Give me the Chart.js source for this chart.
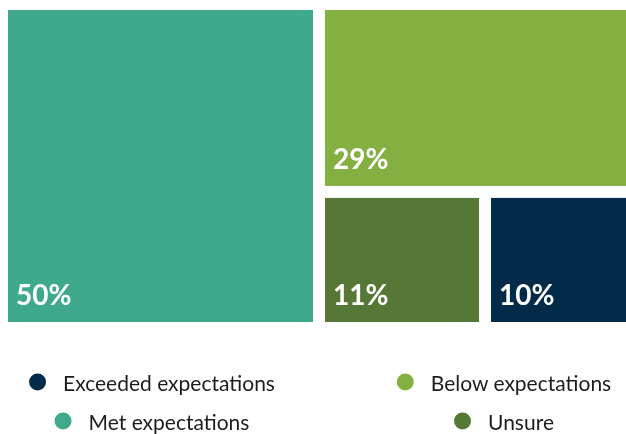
<!DOCTYPE html>
<html>
<head>
<meta charset="utf-8">
<script src="https://cdn.jsdelivr.net/npm/chart.js@4"></script>
<style>
  html, body { margin: 0; padding: 0; background: #fff; overflow: hidden; }
  #wrap { position: relative; width: 626px; height: 434px; overflow: hidden; }
  #tree { position: absolute; left: 0; top: 0; }
  .item { position: absolute; display: flex; align-items: center; transform: translate(-50%, -50%);
          font-family: Lato, "Open Sans", sans-serif; font-size: 21px; color: #1d1d1b; white-space: nowrap; }
  .dot { width: 17px; height: 17px; border-radius: 50%; margin-right: 17px; }
</style>
</head>
<body>
<div id="wrap">
  <canvas id="tree" width="640" height="434"></canvas>
  <div id="legend"></div>
</div>
<script>
var categories = ['Met expectations', 'Below expectations', 'Unsure', 'Exceeded expectations'];
var values = [50, 29, 11, 10];
var colors = ['#3fa98c', '#84b042', '#557836', '#022b4a'];

// legend order as laid out under the tiles: two columns, two rows
var legendOrder = [3, 1, 0, 2];
var legendCenters = [[152, 382], [504, 382], [152, 421], [504, 421]];

var GAP = 12;

function worst(row, side) {
    var s = 0, mx = -Infinity, mn = Infinity;
    row.forEach(function (r) { s += r.a; mx = Math.max(mx, r.a); mn = Math.min(mn, r.a); });
    return Math.max(side * side * mx / (s * s), (s * s) / (side * side * mn));
}

function place(row, r, out) {
    var s = row.reduce(function (t, it) { return t + it.a; }, 0);
    if (r.w >= r.h) {
        var t = s / r.h, yy = r.y;
        row.forEach(function (it) { var hh = it.a / t; out.push({ i: it.i, x: r.x, y: yy, w: t, h: hh }); yy += hh; });
        return { x: r.x + t, y: r.y, w: r.w - t, h: r.h };
    }
    var t2 = s / r.w, xx = r.x;
    row.forEach(function (it) { var ww = it.a / t2; out.push({ i: it.i, x: xx, y: r.y, w: ww, h: t2 }); xx += ww; });
    return { x: r.x, y: r.y + t2, w: r.w, h: r.h - t2 };
}

// squarified layout in units where the area is ar wide and 1 high
function squarify(vals, ar) {
    var total = vals.reduce(function (a, b) { return a + b; }, 0);
    var items = vals.map(function (v, i) { return { i: i, a: v / total * ar }; });
    var out = [], row = [], r = { x: 0, y: 0, w: ar, h: 1 }, k = 0;
    while (k < items.length) {
        var side = Math.min(r.w, r.h);
        var next = row.concat([items[k]]);
        if (row.length === 0 || worst(next, side) <= worst(row, side)) { row = next; k++; }
        else { r = place(row, r, out); row = []; }
    }
    if (row.length) place(row, r, out);
    return out;
}

var treemapPlugin = {
    id: 'treemap',
    afterDatasetsDraw: function (chart) {
        var ctx = chart.ctx, area = chart.chartArea;
        var xs = chart.scales.x, ys = chart.scales.y;
        var ar = area.width / area.height;
        var tiles = squarify(values, ar);
        ctx.save();
        tiles.forEach(function (t) {
            var x0 = xs.getPixelForValue(t.x / ar) + GAP / 2;
            var x1 = xs.getPixelForValue((t.x + t.w) / ar) - GAP / 2;
            var y0 = ys.getPixelForValue(t.y) + GAP / 2;
            var y1 = ys.getPixelForValue(t.y + t.h) - GAP / 2;
            ctx.fillStyle = colors[t.i];
            ctx.fillRect(x0, y0, x1 - x0, y1 - y0);
            ctx.fillStyle = '#ffffff';
            ctx.font = 'bold 28px Lato, "Open Sans", sans-serif';
            ctx.textAlign = 'left';
            ctx.textBaseline = 'alphabetic';
            ctx.fillText(values[t.i] + '%', x0 + 8, y1 - 17);
        });
        ctx.restore();
    }
};

new Chart(document.getElementById('tree'), {
    type: 'scatter',
    data: { datasets: [{ data: [], pointRadius: 0 }] },
    options: {
        responsive: false,
        animation: false,
        layout: { padding: { left: 2, top: 4, right: 4, bottom: 106 } },
        scales: {
            x: { type: 'linear', display: false, min: 0, max: 1 },
            y: { type: 'linear', display: false, min: 0, max: 1, reverse: true }
        },
        plugins: { legend: { display: false }, tooltip: { enabled: false } }
    },
    plugins: [treemapPlugin]
});

var legend = document.getElementById('legend');
legendOrder.forEach(function (idx, n) {
    var el = document.createElement('div');
    el.className = 'item';
    el.style.left = legendCenters[n][0] + 'px';
    el.style.top = legendCenters[n][1] + 'px';
    el.innerHTML = '<span class="dot" style="background:' + colors[idx] + '"></span><span>' + categories[idx] + '</span>';
    legend.appendChild(el);
});
</script>
</body>
</html>
